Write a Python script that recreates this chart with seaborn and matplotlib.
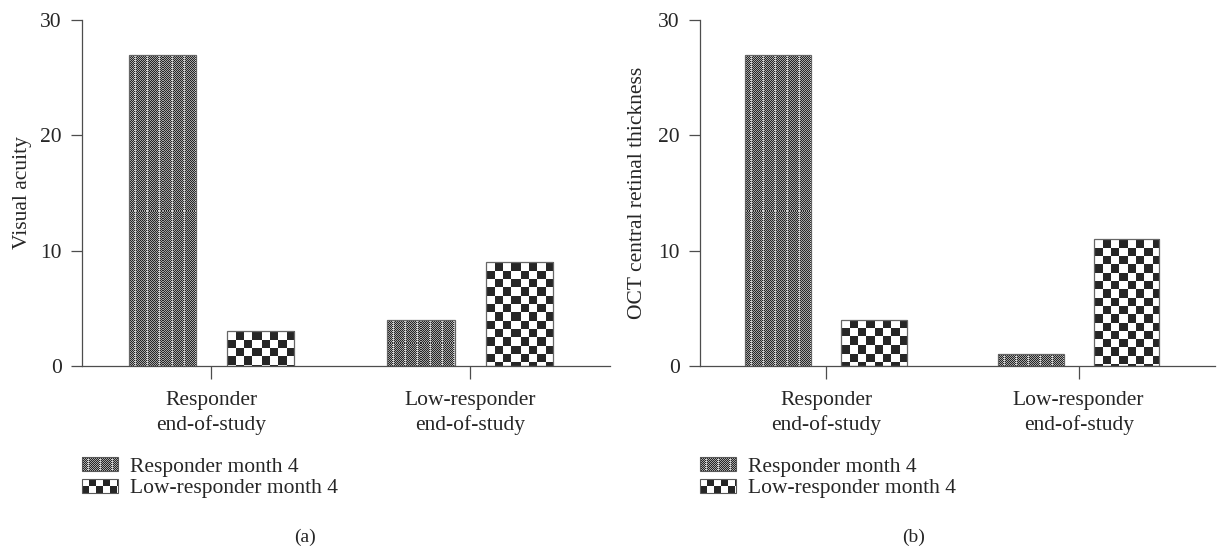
import numpy as np
import pandas as pd
import matplotlib
matplotlib.use("Agg")
import matplotlib.pyplot as plt
import seaborn as sns
from matplotlib.patches import Rectangle
from matplotlib.legend_handler import HandlerBase
from matplotlib.image import BboxImage
from matplotlib.transforms import Bbox, TransformedBbox

# data
groups = ["Responder\nend-of-study", "Low-responder\nend-of-study"]
series = ["Responder month 4", "Low-responder month 4"]
visual_acuity = {"Responder month 4": [27, 4], "Low-responder month 4": [3, 9]}
oct_thickness = {"Responder month 4": [27, 1], "Low-responder month 4": [4, 11]}
ylabels = ["Visual acuity", "OCT central retinal thickness"]
captions = ["(a)", "(b)"]

FS = 15.5
sns.set_theme(style="ticks")
plt.rcParams["font.family"] = ["Liberation Serif", "DejaVu Serif"]
plt.rcParams["font.size"] = FS


def rgb(v):
    return np.dstack([v, v, v])


def dense_tex(h, w):
    yy, xx = np.mgrid[0:h, 0:w]
    v = np.where((xx + yy) % 2 == 0, 0.15, 0.65)
    stripe = np.isin(xx % 12, [5, 6])
    v = np.where(stripe & (yy % 2 == 0), 0.85, v)
    return rgb(v)


def checker_tex(h, w, s=8.3):
    yy, xx = np.mgrid[0:h, 0:w]
    return rgb(np.where(((xx // s) + (yy // s)) % 2 == 0, 1.0, 0.15))


textures = {series[0]: dense_tex, series[1]: checker_tex}


class TextureHandler(HandlerBase):
    def __init__(self, func, s=None):
        super().__init__()
        self.func = func
        self.s = s

    def create_artists(self, legend, orig_handle, xdescent, ydescent,
                       width, height, fontsize, trans):
        bb = TransformedBbox(Bbox.from_bounds(-xdescent, -ydescent, width, height), trans)
        img = BboxImage(bb, interpolation="nearest")
        if self.s:
            img.set_data(self.func(14, 36, self.s))
        else:
            img.set_data(self.func(14, 36))
        rect = Rectangle((-xdescent, -ydescent), width, height, fill=False,
                         edgecolor="0.35", lw=0.8, transform=trans)
        return [img, rect]


fig = plt.figure(figsize=(12.17, 5.5), dpi=100)
ax_a = fig.add_axes([82 / 1217, 1 - 366 / 550, 528 / 1217, 346 / 550])
ax_b = fig.add_axes([700 / 1217, 1 - 366 / 550, 515 / 1217, 346 / 550])

panels = [(ax_a, visual_acuity), (ax_b, oct_thickness)]
cap_x = [305 / 1217, 914 / 1217]
for i, (ax, vals) in enumerate(panels):
    df = pd.DataFrame({
        "group": groups * 2,
        "series": [series[0]] * 2 + [series[1]] * 2,
        "value": vals[series[0]] + vals[series[1]],
    })
    sns.barplot(data=df, x="group", y="value", hue="series", hue_order=series,
                order=groups, width=0.76, gap=0.316, palette=["white", "white"],
                edgecolor="0.4", linewidth=0.9, legend=False, ax=ax)
    ax.set_ylim(0, 30)
    ax.set_xlim(-0.5, 1.54)
    ax.set_yticks([0, 10, 20, 30])
    ax.set_xlabel("")
    ax.set_ylabel(ylabels[i], fontsize=FS)
    ax.yaxis.set_label_coords(-0.095 if i == 0 else -0.103, 0.5)
    sns.despine(ax=ax)
    for sp in ["left", "bottom"]:
        ax.spines[sp].set_color("0.3")
        ax.spines[sp].set_linewidth(0.9)
    ax.tick_params(axis="y", length=7.7, width=0.9, color="0.3", pad=7, labelsize=FS)
    ax.tick_params(axis="x", length=9, width=0.9, color="0.3", pad=9, labelsize=FS)
    for t in ax.get_xticklabels():
        t.set_linespacing(1.35)
    fig.text(cap_x[i], 1 - 537 / 550, captions[i], ha="center", va="center", fontsize=14)

fig.canvas.draw()
for ax, _ in panels:
    for cont, name in zip(ax.containers, series):
        for p in cont.patches:
            ext = p.get_window_extent()
            h, w = max(int(round(ext.height)), 1), max(int(round(ext.width)), 1)
            tex = textures[name](h, w)
            x0, y0 = p.get_x(), p.get_y()
            im = ax.imshow(tex, interpolation="nearest",
                           extent=[x0, x0 + p.get_width(), y0, y0 + p.get_height()],
                           aspect="auto", zorder=p.get_zorder() - 0.1)
            im.set_clip_path(p)
            p.set_facecolor("none")
    ax.set_xlim(-0.5, 1.54)
    ax.set_ylim(0, 30)

    handles = [Rectangle((0, 0), 1, 1), Rectangle((0, 0), 1, 1)]
    pos = ax.get_position()
    leg = fig.legend(handles, series, loc="upper left",
                     bbox_to_anchor=(pos.x0, 1 - 457 / 550), frameon=False,
                     handlelength=1.65, handleheight=0.62, handletextpad=0.6,
                     labelspacing=0.1, borderaxespad=0, borderpad=0, fontsize=FS,
                     handler_map={handles[0]: TextureHandler(dense_tex),
                                  handles[1]: TextureHandler(checker_tex, 7)})

fig.savefig("out.png", dpi=100)
